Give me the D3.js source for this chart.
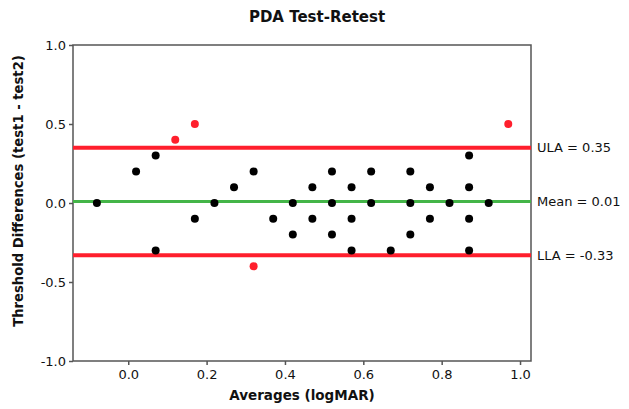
<!DOCTYPE html>
<html>
<head>
<meta charset="utf-8">
<script src="https://cdn.jsdelivr.net/npm/d3@7"></script>
<style>
  body { margin: 0; background: #fff; }
  svg { font-family: "DejaVu Sans", Verdana, sans-serif; }
</style>
</head>
<body>
<div id="chart"></div>
<script>
// Bland-Altman points: averages (logMAR) and differences (test1 - test2)
var averages = [-0.08, 0.22, 0.42, 0.52, 0.62, 0.72, 0.82, 0.92,
                0.27, 0.47, 0.57, 0.77, 0.87,
                0.02, 0.32, 0.52, 0.62, 0.72,
                0.07, 0.87,
                0.17, 0.37, 0.47, 0.57, 0.77, 0.87,
                0.42, 0.52, 0.72,
                0.07, 0.57, 0.67, 0.87];
var differences = [0, 0, 0, 0, 0, 0, 0, 0,
                   0.1, 0.1, 0.1, 0.1, 0.1,
                   0.2, 0.2, 0.2, 0.2, 0.2,
                   0.3, 0.3,
                   -0.1, -0.1, -0.1, -0.1, -0.1, -0.1,
                   -0.2, -0.2, -0.2,
                   -0.3, -0.3, -0.3, -0.3];

// points outside the limits of agreement
var outlierAverages = [0.12, 0.17, 0.97, 0.32];
var outlierDifferences = [0.4, 0.5, 0.5, -0.4];

// reference lines
var refNames = ["ULA = 0.35", "Mean = 0.01", "LLA = -0.33"];
var refValues = [0.35, 0.01, -0.33];
var refColors = ["#ff1f2d", "#44b548", "#ff1f2d"];

var xTicks = [0.0, 0.2, 0.4, 0.6, 0.8, 1.0];
var yTicks = [1.0, 0.5, 0.0, -0.5, -1.0];

var width = 629, height = 409;
var margin = { top: 45, right: 98, bottom: 48, left: 73 };
var w = width - margin.left - margin.right;
var h = height - margin.top - margin.bottom;

var svg = d3.select("#chart")
  .append("svg")
  .attr("width", width)
  .attr("height", height);

var g = svg.append("g")
  .attr("transform", "translate(" + margin.left + "," + margin.top + ")");

var x = d3.scaleLinear().domain([-0.141, 1.028]).range([0, w]);
var y = d3.scaleLinear().domain([-1, 1]).range([h, 0]);

var axisColor = "#555";
// plain hyphen for negatives, like the original
var fmt = function (d) { return d.toFixed(1); };

// frame
g.append("rect")
  .attr("width", w)
  .attr("height", h)
  .attr("fill", "none")
  .attr("stroke", axisColor)
  .attr("stroke-width", 1.5);

// axes
var xAxis = g.append("g")
  .attr("transform", "translate(0," + h + ")")
  .call(d3.axisBottom(x).tickValues(xTicks).tickFormat(fmt).tickSize(4).tickPadding(5));
var yAxis = g.append("g")
  .call(d3.axisLeft(y).tickValues(yTicks).tickFormat(fmt).tickSize(4).tickPadding(3));

[xAxis, yAxis].forEach(function (a) {
  a.select(".domain").remove();
  a.selectAll("line").attr("stroke", axisColor).attr("stroke-width", 1.5);
  a.selectAll("text")
    .attr("fill", "#111")
    .style("font-family", "'DejaVu Sans', Verdana, sans-serif")
    .style("font-size", "13px");
});

// reference lines
refValues.forEach(function (v, i) {
  g.append("line")
    .attr("x1", 0)
    .attr("x2", w)
    .attr("y1", y(v))
    .attr("y2", y(v))
    .attr("stroke", refColors[i])
    .attr("stroke-width", i === 1 ? 3 : 4);
  g.append("text")
    .attr("x", w + 6)
    .attr("y", y(v))
    .attr("dy", "0.35em")
    .attr("fill", "#111")
    .style("font-size", "13px")
    .text(refNames[i]);
});

// dots
g.selectAll(".dot")
  .data(averages)
  .enter()
  .append("circle")
  .attr("class", "dot")
  .attr("cx", function (d) { return x(d); })
  .attr("cy", function (d, i) { return y(differences[i]); })
  .attr("r", 4)
  .attr("fill", "#000");

g.selectAll(".outlier")
  .data(outlierAverages)
  .enter()
  .append("circle")
  .attr("class", "outlier")
  .attr("cx", function (d) { return x(d); })
  .attr("cy", function (d, i) { return y(outlierDifferences[i]); })
  .attr("r", 4)
  .attr("fill", "#ff1f2d");

// titles
svg.append("text")
  .attr("x", 317)
  .attr("y", 22)
  .attr("text-anchor", "middle")
  .style("font-size", "15px")
  .style("font-weight", "bold")
  .attr("fill", "#111")
  .text("PDA Test-Retest");

svg.append("text")
  .attr("x", margin.left + w / 2)
  .attr("y", 400)
  .attr("text-anchor", "middle")
  .style("font-size", "13.5px")
  .style("font-weight", "bold")
  .attr("fill", "#111")
  .text("Averages (logMAR)");

svg.append("text")
  .attr("transform", "translate(23," + (margin.top + h / 2 - 12) + ") rotate(-90)")
  .attr("text-anchor", "middle")
  .style("font-size", "13.2px")
  .style("font-weight", "bold")
  .attr("fill", "#111")
  .text("Threshold Differences (test1 - test2)");
</script>
</body>
</html>
